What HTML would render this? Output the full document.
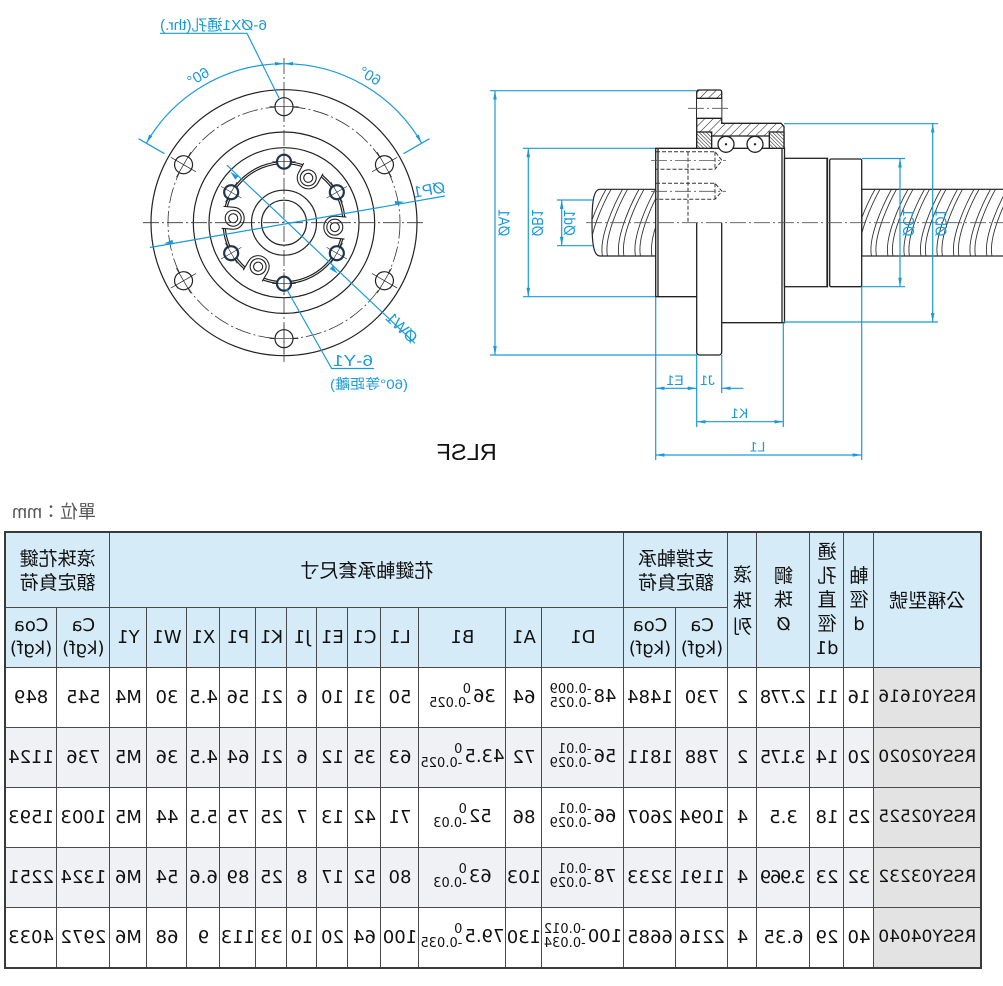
<!DOCTYPE html>
<html><head><meta charset="utf-8">
<style>
html,body{margin:0;padding:0;background:#fff;}
body{width:1003px;height:986px;position:relative;overflow:hidden;}
svg{position:absolute;left:0;top:0;}
.unit{position:absolute;left:8px;top:500px;width:88px;height:24px;transform:scaleX(-1);font-family:"Liberation Sans","Noto Sans CJK TC",sans-serif;font-size:18px;line-height:24px;color:#555;text-align:left;white-space:nowrap;}
.tbl{position:absolute;left:6px;top:531px;width:976px;transform:scaleX(-1);}
table{border-collapse:collapse;table-layout:fixed;width:976px;font-family:"DejaVu Sans","Noto Sans CJK TC",sans-serif;color:#111;border:2px solid #3a3a3a;}
td{border:1px solid #4a4a4a;text-align:center;vertical-align:middle;padding:0;white-space:nowrap;font-size:18px;overflow:hidden;}
tr.h td{background:#d5ebf8;}
.cj{font-family:"Noto Sans CJK TC","DejaVu Sans",sans-serif;font-size:19px;line-height:24px;}
.lt{line-height:23px;}
tr.d td{height:59px;}
tr.e td{background:#eff1f4;}
td.m{background:#e3e3e3 !important;font-size:17px;}
td.n{letter-spacing:-1.4px;}
.tol{display:inline-block;vertical-align:middle;font-size:13px;line-height:14px;text-align:left;margin-left:2px;letter-spacing:0;}
.tol span{display:block;}
</style></head>
<body>
<svg width="1003" height="500" viewBox="0 0 1003 500" xmlns="http://www.w3.org/2000/svg">
<defs>
<marker id="ar" viewBox="0 0 10 10" refX="10" refY="5" markerWidth="9" markerHeight="9" markerUnits="userSpaceOnUse" orient="auto-start-reverse"><path d="M0,3 L10,5 L0,7 z" fill="#1b9ad9"/></marker>
<pattern id="hatch" width="6" height="6" patternUnits="userSpaceOnUse" patternTransform="rotate(45)"><rect width="6" height="6" fill="#fff"/><line x1="0" y1="0" x2="0" y2="6" stroke="#222" stroke-width="1.1"/></pattern>
<pattern id="hatch2" width="2.6" height="2.6" patternUnits="userSpaceOnUse" patternTransform="rotate(-45)"><rect width="2.6" height="2.6" fill="#fff"/><line x1="0" y1="0" x2="0" y2="2.6" stroke="#222" stroke-width="1.1"/></pattern>
<clipPath id="cl"><path d="M656,189.3 L600,189.3 C594,189.3 592,200 592,222.7 C592,245 594,256 600,256 L656,256 Z"/></clipPath>
<clipPath id="cr"><rect x="861.7" y="189.3" width="145" height="66.7"/></clipPath>
<g id="bh"><circle cx="284" cy="106.7" r="9" fill="#fff" stroke="#222" stroke-width="1.2"/><path d="M284,92V121M269.5,106.7H298.5" stroke="#222" stroke-width="0.7" fill="none"/></g>
<g id="yh"><circle cx="284" cy="161.7" r="7" fill="#fff" stroke="#1d3550" stroke-width="2.2"/><path d="M284,150V173.4M272.3,161.7H295.7" stroke="#222" stroke-width="0.6" fill="none"/></g>
<g id="rf"><path d="M273,161 L273,171.7 A11,11 0 0 0 295,171.7 L295,161" fill="#fff" stroke="#222" stroke-width="1.1"/><circle cx="284" cy="171.7" r="8" fill="none" stroke="#222" stroke-width="1.1"/><circle cx="284" cy="171.7" r="4.5" fill="none" stroke="#222" stroke-width="1.1"/></g>
</defs>

<!-- ===== LEFT VIEW ===== -->
<g fill="none" stroke="#222" stroke-width="1.2">
<circle cx="284" cy="222.7" r="133"/>
<circle cx="284" cy="222.7" r="90.7"/>
<circle cx="284" cy="222.7" r="75"/>
<circle cx="284" cy="222.7" r="61"/>
<circle cx="284" cy="222.7" r="59"/>
<circle cx="284" cy="222.7" r="32.5"/>
<circle cx="284" cy="222.7" r="22.5"/>
</g>
<circle cx="284" cy="222.7" r="116" fill="none" stroke="#333" stroke-width="0.8" stroke-dasharray="16 3 2 3"/>
<use href="#rf" transform="rotate(28.4 284 222.7)"/>
<use href="#rf" transform="rotate(-85 284 222.7)"/>
<use href="#rf" transform="rotate(-149.5 284 222.7)"/>
<use href="#rf" transform="rotate(95 284 222.7)"/>
<use href="#yh"/>
<use href="#yh" transform="rotate(60 284 222.7)"/>
<use href="#yh" transform="rotate(120 284 222.7)"/>
<use href="#yh" transform="rotate(180 284 222.7)"/>
<use href="#yh" transform="rotate(240 284 222.7)"/>
<use href="#yh" transform="rotate(300 284 222.7)"/>
<use href="#bh"/>
<use href="#bh" transform="rotate(60 284 222.7)"/>
<use href="#bh" transform="rotate(120 284 222.7)"/>
<use href="#bh" transform="rotate(180 284 222.7)"/>
<use href="#bh" transform="rotate(240 284 222.7)"/>
<use href="#bh" transform="rotate(300 284 222.7)"/>
<path d="M143,222.7H424M284,58V365" stroke="#333" stroke-width="0.8" stroke-dasharray="16 3 2 3" fill="none"/>

<!-- blue dims left view -->
<g stroke="#1b9ad9" stroke-width="1.2" fill="none">
<path d="M146.3,143.2 A159,159 0 0 1 284,63.7" marker-start="url(#ar)" marker-end="url(#ar)"/>
<path d="M284,63.7 A159,159 0 0 1 421.7,143.2" marker-start="url(#ar)" marker-end="url(#ar)"/>
<path d="M164.5,153.7L138.5,138.7M403.5,153.7L429.5,138.7"/>
<path d="M150,247.5L445,196"/>
<path d="M226.7,165L415,343.3"/>
<path d="M160,33.3H247L279.5,99"/>
<path d="M286.5,289L331.7,368.5H374"/>
</g>
<g fill="#1b9ad9">
<polygon points="404,201.7 395.5,205.4 394.7,201"/>
<polygon points="164,243.5 173.3,244.2 172.5,239.8"/>
<polygon points="337.7,273.6 329.7,269 332.7,265.8"/>
<polygon points="230.3,171.8 235.3,179.6 238.3,176.4"/>
</g>
<g fill="#1b9ad9" font-family="Liberation Sans,Noto Sans CJK TC,sans-serif" font-size="15" text-anchor="middle">
<text transform="translate(198.3,76.7) scale(-1,1) rotate(30)" dy="5">60°</text>
<text transform="translate(370,76) scale(-1,1) rotate(-30)" dy="5">60°</text>
<text transform="translate(213.5,30) scale(-1,1)" textLength="107" lengthAdjust="spacingAndGlyphs">6-ØX1通孔(thr.)</text>
<text transform="translate(430,195) scale(-1,1) rotate(10)" font-size="16">ØP1</text>
<text transform="translate(398,331.5) scale(-1,1) rotate(-43.5)" font-size="16">ØW1</text>
<text transform="translate(353,366) scale(-1,1)" font-size="16" textLength="40" lengthAdjust="spacingAndGlyphs">6-Y1</text>
<text transform="translate(369,389) scale(-1,1)" font-size="14" textLength="78" lengthAdjust="spacingAndGlyphs">(60°等距離)</text>
</g>

<!-- ===== RIGHT VIEW ===== -->
<g stroke="#222" stroke-width="1.2">
<path d="M656,189.3 L600,189.3 C594,189.3 592,200 592,222.7 C592,245 594,256 600,256 L656,256 Z" fill="#fff"/>
<rect x="861.7" y="189.3" width="145" height="66.7" fill="#fff"/>
</g>
<g clip-path="url(#cl)" fill="none" stroke="#333" stroke-width="0.9">
<path d="M586,256C582,236 600,200 606,189.3M591,256C587,236 605,200 611,189.3M602.5,256C598.5,236 616.5,200 622.5,189.3M607.5,256C603.5,236 621.5,200 627.5,189.3M619,256C615,236 633,200 639,189.3M624,256C620,236 638,200 644,189.3M635.5,256C631.5,236 649.5,200 655.5,189.3M640.5,256C636.5,236 654.5,200 660.5,189.3M652,256C648,236 666,200 672,189.3"/>
</g>
<g clip-path="url(#cr)" fill="none" stroke="#333" stroke-width="0.9">
<path d="M855,256C851,236 869,200 875,189.3M860,256C856,236 874,200 880,189.3M871.5,256C867.5,236 885.5,200 891.5,189.3M876.5,256C872.5,236 890.5,200 896.5,189.3M888,256C884,236 902,200 908,189.3M893,256C889,236 907,200 913,189.3M904.5,256C900.5,236 918.5,200 924.5,189.3M909.5,256C905.5,236 923.5,200 929.5,189.3M921,256C917,236 935,200 941,189.3M926,256C922,236 940,200 946,189.3M937.5,256C933.5,236 951.5,200 957.5,189.3M942.5,256C938.5,236 956.5,200 962.5,189.3M954,256C950,236 968,200 974,189.3M959,256C955,236 973,200 979,189.3M970.5,256C966.5,236 984.5,200 990.5,189.3M975.5,256C971.5,236 989.5,200 995.5,189.3M987,256C983,236 1001,200 1007,189.3M992,256C988,236 1006,200 1012,189.3"/>
</g>
<!-- nut -->
<g stroke="#222" stroke-width="1.3">
<path d="M655.7,148.3 L784.5,148.3 L784.5,322.7 L721.7,322.7 L721.7,352 Q721.7,355 718.7,355 L699.7,355 Q696.7,355 696.7,352 L696.7,296.7 L655.7,296.7 Z" fill="#fff"/>
<rect x="784.5" y="158.3" width="43" height="128.4" fill="#fff"/>
<rect x="829.7" y="159" width="32" height="127.7" rx="1.5" fill="#fff"/>
<path d="M696.7,222.7V296.7M721.7,222.7V322.7M782,148.3V322.7M658,148.3V296.7M827,158.3V286.7" fill="none"/>
<path d="M696.7,92 Q696.7,90 699,90 L719.5,90 Q721.7,90 721.7,92 L721.7,123.3 L781,123.3 L784,126.5 L784,148.3 L696.7,148.3 Z" fill="url(#hatch)"/>
<rect x="697" y="98.3" width="24.4" height="20" fill="#fff" stroke="none"/>
<path d="M696.7,98.3H721.7M696.7,118.3H721.7" fill="none"/>
<rect x="696.7" y="132" width="15" height="16.3" fill="url(#hatch2)"/>
<rect x="769.3" y="132" width="14.7" height="16.3" fill="url(#hatch2)"/>
<rect x="711.7" y="136" width="57.6" height="12.3" fill="#fff"/>
<circle cx="726" cy="144.3" r="8" fill="#fff"/>
<circle cx="755" cy="144.3" r="8" fill="#fff"/>
</g>
<circle cx="726" cy="144.3" r="1.2" fill="#222"/>
<circle cx="755" cy="144.3" r="1.2" fill="#222"/>
<g fill="none" stroke="#333" stroke-width="1" stroke-dasharray="4 2">
<path d="M656,151.7H715L722,160.5L715,169.3H656M715,151.7V169.3M688,151.7V222.7"/>
<path d="M656,183.3H715L722,191.3L715,199.3H656M715,183.3V199.3"/>
</g>
<path d="M688,108.3H731M651,160.5H726M651,191.3H726M586,222.7H1003" stroke="#555" stroke-width="0.8" stroke-dasharray="16 3 2 3" fill="none"/>

<!-- blue dims right view -->
<g stroke="#1b9ad9" stroke-width="1.2" fill="none">
<path d="M490,90.7H696M490,355H697M523,148.3H655M523,296.7H655M557,200H593M557,245.7H593M862,158.5H905M862,286.7H905M784,123.7H938M784,322H938"/>
<path d="M655.7,297V460M696.7,355V427M721.7,355V393M783.3,322.7V427M861.7,287V460"/>
<line x1="495" y1="90.7" x2="495" y2="355" marker-start="url(#ar)" marker-end="url(#ar)"/>
<line x1="528.3" y1="148.3" x2="528.3" y2="296.7" marker-start="url(#ar)" marker-end="url(#ar)"/>
<line x1="561.7" y1="200" x2="561.7" y2="245.7" marker-start="url(#ar)" marker-end="url(#ar)"/>
<line x1="900" y1="158.5" x2="900" y2="286.7" marker-start="url(#ar)" marker-end="url(#ar)"/>
<line x1="932.7" y1="123.7" x2="932.7" y2="322" marker-start="url(#ar)" marker-end="url(#ar)"/>
<line x1="655.7" y1="388.3" x2="696.7" y2="388.3" marker-start="url(#ar)" marker-end="url(#ar)"/>
<line x1="721.7" y1="388.3" x2="743.3" y2="388.3" marker-start="url(#ar)"/>
<line x1="696.7" y1="421.7" x2="783.3" y2="421.7" marker-start="url(#ar)" marker-end="url(#ar)"/>
<line x1="655.7" y1="455" x2="861.7" y2="455" marker-start="url(#ar)" marker-end="url(#ar)"/>
</g>
<g fill="#1b9ad9" font-family="Liberation Sans,sans-serif" font-size="16" text-anchor="middle">
<text transform="translate(498.5,222.7) scale(-1,1) rotate(-90)" textLength="27" lengthAdjust="spacingAndGlyphs">ØA1</text>
<text transform="translate(532,222.7) scale(-1,1) rotate(-90)" textLength="27" lengthAdjust="spacingAndGlyphs">ØB1</text>
<text transform="translate(564,222.7) scale(-1,1) rotate(-90)" textLength="26" lengthAdjust="spacingAndGlyphs">Ød1</text>
<text transform="translate(903,222.7) scale(-1,1) rotate(-90)" textLength="27" lengthAdjust="spacingAndGlyphs">ØC1</text>
<text transform="translate(935.5,222.7) scale(-1,1) rotate(-90)" textLength="27" lengthAdjust="spacingAndGlyphs">ØD1</text>
<text transform="translate(675,385) scale(-1,1)" font-size="14">E1</text>
<text transform="translate(707.5,385) scale(-1,1)" font-size="14">J1</text>
<text transform="translate(739.5,418) scale(-1,1)" font-size="14">K1</text>
<text transform="translate(757.5,451.7) scale(-1,1)" font-size="14">L1</text>
</g>
<text transform="translate(466.7,460) scale(-1,1)" font-family="Liberation Sans,sans-serif" font-size="23" text-anchor="middle" fill="#111" textLength="60" lengthAdjust="spacingAndGlyphs">RLSF</text>
</svg>

<div class="unit">單位：mm</div>

<div class="tbl">
<table>
<colgroup>
<col style="width:107px"><col style="width:30px"><col style="width:34px"><col style="width:53px"><col style="width:29px">
<col style="width:52px"><col style="width:52px"><col style="width:82px"><col style="width:36px"><col style="width:87px">
<col style="width:38px"><col style="width:33px"><col style="width:31px"><col style="width:30px"><col style="width:31px">
<col style="width:36px"><col style="width:33px"><col style="width:40px"><col style="width:37px"><col style="width:53px"><col style="width:52px">
</colgroup>
<tr class="h" style="height:75px">
<td rowspan="2" class="cj">公稱型號</td>
<td rowspan="2" class="cj">軸<br>徑<br><span style="font-family:'DejaVu Sans';font-size:18px">d</span></td>
<td rowspan="2" class="cj">通<br>孔<br>直<br>徑<br><span style="font-family:'DejaVu Sans';font-size:18px">d1</span></td>
<td rowspan="2" class="cj">鋼<br>珠<br><span style="font-family:'DejaVu Sans';font-size:18px">Ø</span></td>
<td rowspan="2" class="cj" style="line-height:26px">滾<br>珠<br>列</td>
<td colspan="2" class="cj">支撐軸承<br>額定負荷</td>
<td colspan="12" class="cj">花鍵軸承套尺寸</td>
<td colspan="2" class="cj">滾珠花鍵<br>額定負荷</td>
</tr>
<tr class="h" style="height:60px">
<td class="lt">Ca<br>(kgf)</td><td class="lt">Coa<br>(kgf)</td>
<td>D1</td><td>A1</td><td>B1</td><td>L1</td><td>C1</td><td>E1</td><td>J1</td><td>K1</td><td>P1</td><td>X1</td><td>W1</td><td>Y1</td>
<td class="lt">Ca<br>(kgf)</td><td class="lt">Coa<br>(kgf)</td>
</tr>
<tr class="d">
<td class="m">RSSY01616</td><td>16</td><td>11</td><td class="n">2.778</td><td>2</td><td>730</td><td>1484</td>
<td>48<span class="tol"><span>-0.009</span><span>-0.025</span></span></td><td>64</td>
<td>36<span class="tol"><span>0</span><span>-0.025</span></span></td>
<td>50</td><td>31</td><td>10</td><td>6</td><td>21</td><td>56</td><td>4.5</td><td>30</td><td>M4</td><td>545</td><td>849</td>
</tr>
<tr class="d e">
<td class="m">RSSY02020</td><td>20</td><td>14</td><td class="n">3.175</td><td>2</td><td>788</td><td>1811</td>
<td>56<span class="tol"><span>-0.01</span><span>-0.029</span></span></td><td>72</td>
<td>43.5<span class="tol"><span>0</span><span>-0.025</span></span></td>
<td>63</td><td>35</td><td>12</td><td>6</td><td>21</td><td>64</td><td>4.5</td><td>36</td><td>M5</td><td>736</td><td>1124</td>
</tr>
<tr class="d">
<td class="m">RSSY02525</td><td>25</td><td>18</td><td>3.5</td><td>4</td><td>1094</td><td>2607</td>
<td>66<span class="tol"><span>-0.01</span><span>-0.029</span></span></td><td>86</td>
<td>52<span class="tol"><span>0</span><span>-0.03</span></span></td>
<td>71</td><td>42</td><td>13</td><td>7</td><td>25</td><td>75</td><td>5.5</td><td>44</td><td>M5</td><td>1003</td><td>1593</td>
</tr>
<tr class="d e">
<td class="m">RSSY03232</td><td>32</td><td>23</td><td class="n">3.969</td><td>4</td><td>1191</td><td>3233</td>
<td>78<span class="tol"><span>-0.01</span><span>-0.029</span></span></td><td>103</td>
<td>63<span class="tol"><span>0</span><span>-0.03</span></span></td>
<td>80</td><td>52</td><td>17</td><td>8</td><td>25</td><td>89</td><td>6.6</td><td>54</td><td>M6</td><td>1324</td><td>2251</td>
</tr>
<tr class="d">
<td class="m">RSSY04040</td><td>40</td><td>29</td><td>6.35</td><td>4</td><td>2216</td><td>6685</td>
<td>100<span class="tol"><span>-0.012</span><span>-0.034</span></span></td><td>130</td>
<td>79.5<span class="tol"><span>0</span><span>-0.035</span></span></td>
<td>100</td><td>64</td><td>20</td><td>10</td><td>33</td><td>113</td><td>9</td><td>68</td><td>M6</td><td>2972</td><td>4033</td>
</tr>
</table>
</div>
</body></html>
